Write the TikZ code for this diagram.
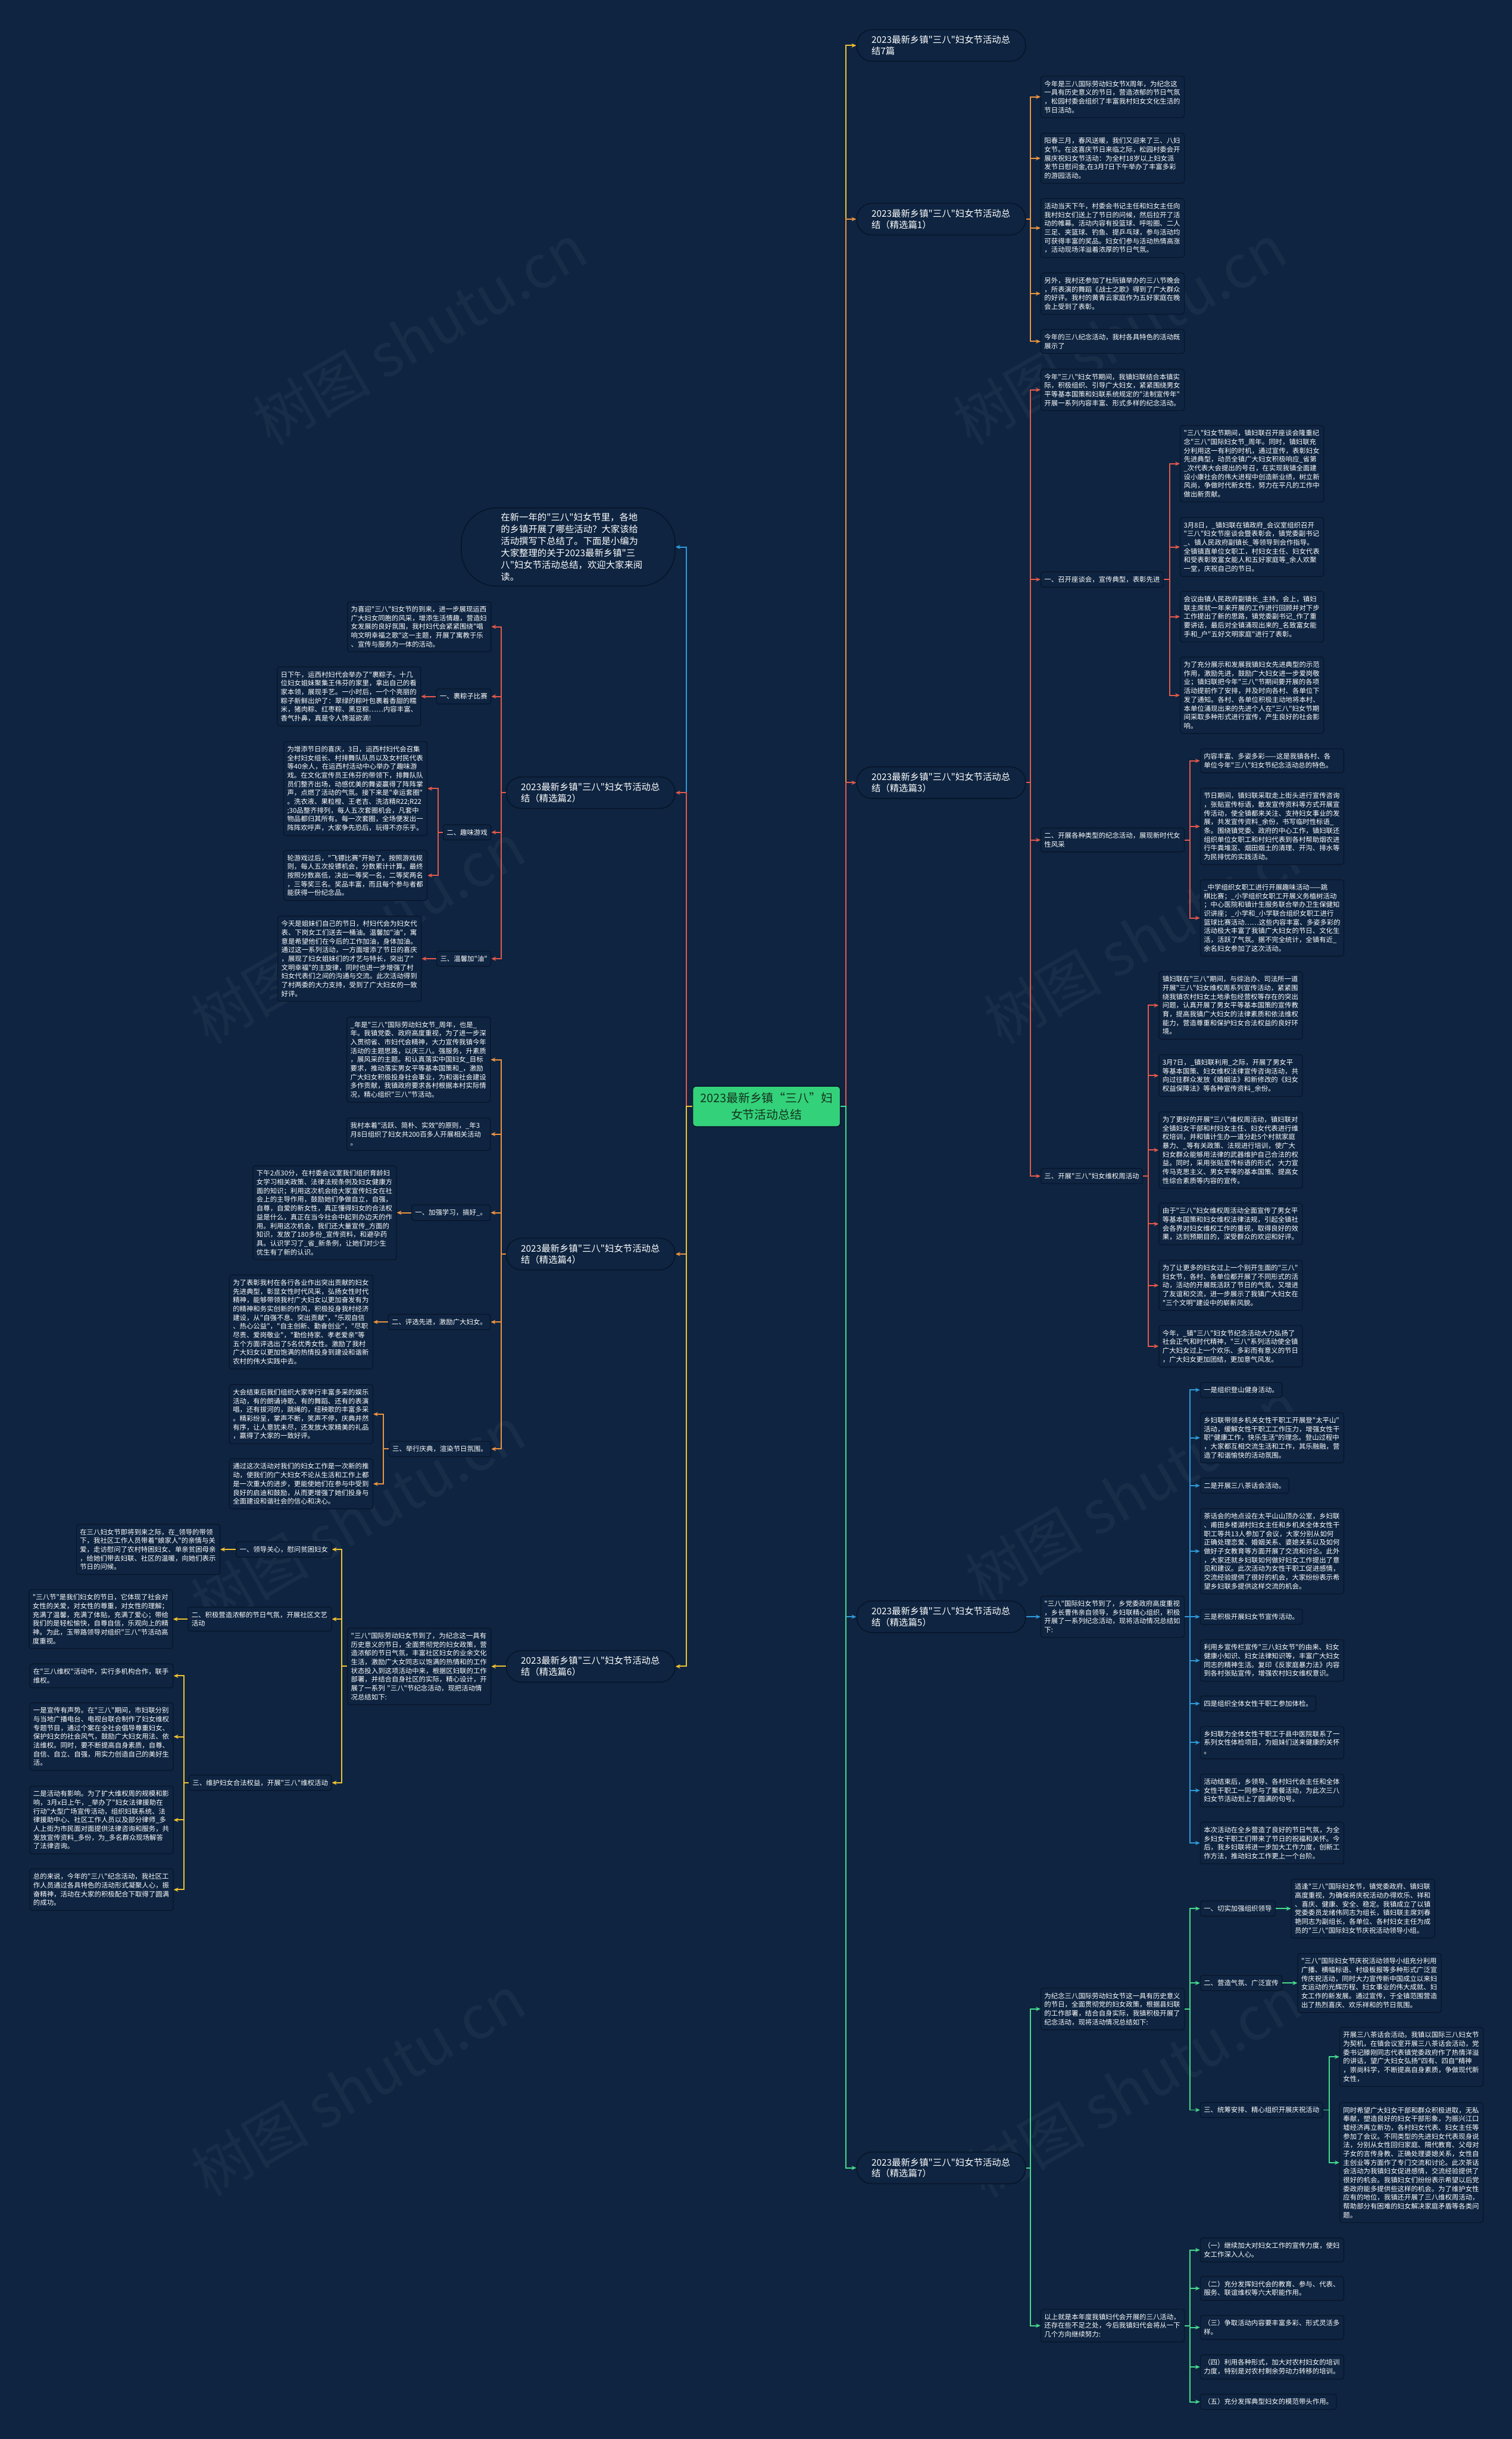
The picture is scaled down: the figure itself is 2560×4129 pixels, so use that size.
\documentclass[tikz,border=0pt]{standalone}
\usepackage{fontspec}
\newfontfamily\cjk{Noto Sans CJK SC}
\usetikzlibrary{arrows.meta}
\definecolor{bgc}{HTML}{0E2440}
\definecolor{nodeline}{HTML}{07152A}
\definecolor{cyel}{HTML}{F2C230}
\definecolor{corg}{HTML}{EC9340}
\definecolor{cred}{HTML}{E4584B}
\definecolor{cblu}{HTML}{2F9BDB}
\definecolor{cgrn}{HTML}{45DB8C}
\definecolor{rootg}{HTML}{33D17A}
\definecolor{roott}{HTML}{15331F}
\tikzset{
  leaf/.style={draw=nodeline, line width=1.2pt, fill=bgc, rounded corners=4pt, text=white,
    font=\cjk\fontsize{11.5}{14.8}\selectfont, align=left, inner xsep=6pt, inner ysep=7.5pt},
  wleaf/.style={leaf, text width=231pt},
  pill/.style={draw=nodeline, line width=1.6pt, fill=bgc, rounded corners=26pt, text=white,
    font=\cjk\fontsize{15.5}{19}\selectfont, align=left, text width=236pt, inner xsep=25pt, inner ysep=10pt},
  intro/.style={pill, rounded corners=60pt, text width=228pt, inner xsep=67pt, inner ysep=9pt,
    font=\cjk\fontsize{15.5}{20}\selectfont},
  conn/.style={line width=2pt, -{Stealth[length=8pt,width=7pt]}},
  wmark/.style={rotate=30, text=white, opacity=0.045, font=\cjk\fontsize{100}{100}\selectfont}
}
\begin{document}
\begin{tikzpicture}[x=1pt,y=-1pt]
\useasboundingbox (0,0) rectangle (2560,4129);
\fill[bgc] (0,0) rectangle (2560,4129);

% watermarks
\node[wmark] (wm1) at (711,566) {树图 shutu.cn};
\node[wmark] (wm2) at (1896,566) {树图 shutu.cn};
\node[wmark] (wm3) at (606,1580) {树图 shutu.cn};
\node[wmark] (wm4) at (1949,1580) {树图 shutu.cn};
\node[wmark] (wm5) at (606,2568) {树图 shutu.cn};
\node[wmark] (wm6) at (1917,2525) {树图 shutu.cn};
\node[wmark] (wm7) at (606,3530) {树图 shutu.cn};
\node[wmark] (wm8) at (1921,3532) {树图 shutu.cn};

% root
\node[draw=nodeline, line width=1.5pt, fill=rootg, text=roott, rounded corners=6pt,
  font=\cjk\fontsize{20}{28}\selectfont, align=center, text width=228pt, inner xsep=11pt, inner ysep=11pt]
  (root) at (1298,1873) {2023最新乡镇“三八”妇\\女节活动总结};

% ================= RIGHT SIDE =================
\node[pill,anchor=west] (t0) at (1450,77) {2023最新乡镇"三八"妇女节活动总\\结7篇};
\node[pill,anchor=west] (p1) at (1450,371) {2023最新乡镇"三八"妇女节活动总\\结（精选篇1）};
\node[pill,anchor=west] (p3) at (1450,1325) {2023最新乡镇"三八"妇女节活动总\\结（精选篇3）};
\node[pill,anchor=west] (p5) at (1450,2737) {2023最新乡镇"三八"妇女节活动总\\结（精选篇5）};
\node[pill,anchor=west] (p7) at (1450,3670) {2023最新乡镇"三八"妇女节活动总\\结（精选篇7）};

% --- 篇1
\node[wleaf,anchor=west] (a11) at (1762,164) {今年是三八国际劳动妇女节X周年，为纪念这\\一具有历史意义的节日，营造浓郁的节日气氛\\，松园村委会组织了丰富我村妇女文化生活的\\节日活动。};
\node[wleaf,anchor=west] (a12) at (1762,268) {阳春三月，春风送暖，我们又迎来了三、八妇\\女节。在这喜庆节日来临之际，松园村委会开\\展庆祝妇女节活动：为全村18岁以上妇女派\\发节日慰问金,在3月7日下午举办了丰富多彩\\的游园活动。};
\node[wleaf,anchor=west] (a13) at (1762,386) {活动当天下午，村委会书记主任和妇女主任向\\我村妇女们送上了节日的问候，然后拉开了活\\动的帷幕。活动内容有投篮球、呼啦圈、二人\\三足、夹篮球、钓鱼、提乒乓球，参与活动均\\可获得丰富的奖品。妇女们参与活动热情高涨\\，活动现场洋溢着浓厚的节日气氛。};
\node[wleaf,anchor=west] (a14) at (1762,497) {另外，我村还参加了杜阮镇举办的三八节晚会\\，所表演的舞蹈《战士之歌》得到了广大群众\\的好评。我村的黄青云家庭作为五好家庭在晚\\会上受到了表彰。};
\node[wleaf,anchor=west] (a15) at (1762,578) {今年的三八纪念活动，我村各具特色的活动既\\展示了};

% --- 篇3
\node[wleaf,anchor=west] (c30) at (1762,660) {今年"三八"妇女节期间，我镇妇联结合本镇实\\际，积极组织、引导广大妇女，紧紧围绕男女\\平等基本国策和妇联系统规定的"法制宣传年"\\开展一系列内容丰富、形式多样的纪念活动。};
\node[leaf,anchor=west] (c31) at (1762,981) {一、召开座谈会，宣传典型，表彰先进};
\node[wleaf,anchor=west] (c311) at (1998,785) {"三八"妇女节期间，镇妇联召开座谈会隆重纪\\念"三八"国际妇女节\_周年。同时，镇妇联充\\分利用这一有利的时机，通过宣传，表彰妇女\\先进典型，动员全镇广大妇女积极响应\_省第\\\_次代表大会提出的号召，在实现我镇全面建\\设小康社会的伟大进程中创造新业绩，树立新\\风尚，争做时代新女性，努力在平凡的工作中\\做出新贡献。};
\node[wleaf,anchor=west] (c312) at (1998,926) {3月8日，\_镇妇联在镇政府\_会议室组织召开\\"三八"妇女节座谈会暨表彰会，镇党委副书记\\\_、镇人民政府副镇长\_等领导到会作指导。\\全镇镇直单位女职工，村妇女主任、妇女代表\\和受表彰致富女能人和五好家庭等\_余人欢聚\\一堂，庆祝自己的节日。};
\node[wleaf,anchor=west] (c313) at (1998,1044) {会议由镇人民政府副镇长\_主持。会上，镇妇\\联主席就一年来开展的工作进行回顾并对下步\\工作提出了新的思路，镇党委副书记\_作了重\\要讲话，最后对全镇涌现出来的\_名致富女能\\手和\_户"五好文明家庭"进行了表彰。};
\node[wleaf,anchor=west] (c314) at (1998,1177) {为了充分展示和发展我镇妇女先进典型的示范\\作用，激励先进，鼓励广大妇女进一步爱岗敬\\业；镇妇联把今年"三八"节期间要开展的各项\\活动提前作了安排，并及时向各村、各单位下\\发了通知。各村、各单位积极主动地将本村、\\本单位涌现出来的先进个人在"三八"妇女节期\\间采取多种形式进行宣传，产生良好的社会影\\响。};
\node[wleaf,anchor=west] (c32) at (1762,1422) {二、开展各种类型的纪念活动，展现新时代女\\性风采};
\node[wleaf,anchor=west] (c321) at (2032,1288) {内容丰富、多姿多彩——这是我镇各村、各\\单位今年"三八"妇女节纪念活动总的特色。};
\node[wleaf,anchor=west] (c322) at (2032,1399) {节日期间，镇妇联采取走上街头进行宣传咨询\\，张贴宣传标语，散发宣传资料等方式开展宣\\传活动，使全镇都来关注、支持妇女事业的发\\展，共发宣传资料\_余份，书写临时性标语\_\\条。围绕镇党委、政府的中心工作，镇妇联还\\组织单位女职工和村妇代表到各村帮助烟农进\\行牛粪堆沤、烟田烟土的清理、开沟、排水等\\为民排忧的实践活动。};
\node[wleaf,anchor=west] (c323) at (2032,1554) {\_中学组织女职工进行开展趣味活动——跳\\棋比赛；\_小学组织女职工开展义务植树活动\\；中心医院和镇计生服务联合举办卫生保健知\\识讲座；\_小学和\_小学联合组织女职工进行\\篮球比赛活动……这些内容丰富、多姿多彩的\\活动极大丰富了我镇广大妇女的节日、文化生\\活，活跃了气氛。据不完全统计，全镇有近\_\\余名妇女参加了这次活动。};
\node[leaf,anchor=west] (c33) at (1762,1991) {三、开展"三八"妇女维权周活动};
\node[wleaf,anchor=west] (c331) at (1962,1702) {镇妇联在"三八"期间，与综治办、司法所一道\\开展"三八"妇女维权周系列宣传活动，紧紧围\\绕我镇农村妇女土地承包经营权等存在的突出\\问题，认真开展了男女平等基本国策的宣传教\\育，提高我镇广大妇女的法律素质和依法维权\\能力，营造尊重和保护妇女合法权益的良好环\\境。};
\node[wleaf,anchor=west] (c332) at (1962,1821) {3月7日，\_镇妇联利用\_之际，开展了男女平\\等基本国策、妇女维权法律宣传咨询活动，共\\向过往群众发放《婚姻法》和新修改的《妇女\\权益保障法》等各种宣传资料\_余份。};
\node[wleaf,anchor=west] (c333) at (1962,1947) {为了更好的开展"三八"维权周活动，镇妇联对\\全镇妇女干部和村妇女主任、妇女代表进行维\\权培训，并和镇计生办一道分赴5个村就家庭\\暴力、\_等有关政策、法规进行培训，使广大\\妇女群众能够用法律的武器维护自己合法的权\\益。同时，采用张贴宣传标语的形式，大力宣\\传马克思主义、男女平等的基本国策、提高女\\性综合素质等内容的宣传。};
\node[wleaf,anchor=west] (c334) at (1962,2072) {由于"三八"妇女维权周活动全面宣传了男女平\\等基本国策和妇女维权法律法规，引起全镇社\\会各界对妇女维权工作的重视，取得良好的效\\果，达到预期目的，深受群众的欢迎和好评。};
\node[wleaf,anchor=west] (c335) at (1962,2176) {为了让更多的妇女过上一个别开生面的"三八"\\妇女节，各村、各单位都开展了不同形式的活\\动，活动的开展既活跃了节日的气氛，又增进\\了友谊和交流，进一步展示了我镇广大妇女在\\"三个文明"建设中的崭新风貌。};
\node[wleaf,anchor=west] (c336) at (1962,2279) {今年，\_镇"三八"妇女节纪念活动大力弘扬了\\社会正气和时代精神，"三八"系列活动使全镇\\广大妇女过上一个欢乐、多彩而有意义的节日\\，广大妇女更加团结，更加意气风发。};

% --- 篇5
\node[wleaf,anchor=west] (c5) at (1762,2737) {"三八"国际妇女节到了，乡党委政府高度重视\\，乡长曹伟亲自领导，乡妇联精心组织，积极\\开展了一系列纪念活动，现将活动情况总结如\\下:};
\node[leaf,anchor=west] (c51) at (2032,2353) {一是组织登山健身活动。};
\node[wleaf,anchor=west] (c52) at (2032,2434) {乡妇联带领乡机关女性干职工开展登"太平山"\\活动，缓解女性干职工工作压力，增强女性干\\职"健康工作，快乐生活"的理念。登山过程中\\，大家都互相交流生活和工作，其乐融融，营\\造了和谐愉快的活动氛围。};
\node[leaf,anchor=west] (c53) at (2032,2515) {二是开展三八茶话会活动。};
\node[wleaf,anchor=west] (c54) at (2032,2626) {茶话会的地点设在太平山山顶办公室，乡妇联\\、甫田乡楼湖村妇女主任和乡机关全体女性干\\职工等共13人参加了会议，大家分别从如何\\正确处理恋爱、婚姻关系、婆媳关系以及如何\\做好子女教育等方面开展了交流和讨论。此外\\，大家还就乡妇联如何做好妇女工作提出了意\\见和建议。此次活动为女性干职工促进感情，\\交流经验提供了很好的机会，大家纷纷表示希\\望乡妇联多提供这样交流的机会。};
\node[leaf,anchor=west] (c55) at (2032,2737) {三是积极开展妇女节宣传活动。};
\node[wleaf,anchor=west] (c56) at (2032,2811) {利用乡宣传栏宣传"三八妇女节"的由来、妇女\\健康小知识、妇女法律知识等，丰富广大妇女\\同志的精神生活。复印《反家庭暴力法》内容\\到各村张贴宣传，增强农村妇女维权意识。};
\node[leaf,anchor=west] (c57) at (2032,2884) {四是组织全体女性干职工参加体检。};
\node[wleaf,anchor=west] (c58) at (2032,2950) {乡妇联为全体女性干职工于县中医院联系了一\\系列女性体检项目，为姐妹们送来健康的关怀\\。};
\node[wleaf,anchor=west] (c59) at (2032,3031) {活动结束后，乡领导、各村妇代会主任和全体\\女性干职工一同参与了聚餐活动，为此次三八\\妇女节活动划上了圆满的句号。};
\node[wleaf,anchor=west] (c510) at (2032,3120) {本次活动在全乡营造了良好的节日气氛，为全\\乡妇女干职工们带来了节日的祝福和关怀。今\\后，我乡妇联将进一步加大工作力度，创新工\\作方法，推动妇女工作更上一个台阶。};

% --- 篇7
\node[wleaf,anchor=west] (c71) at (1762,3401) {为纪念三八国际劳动妇女节这一具有历史意义\\的节日，全面贯彻党的妇女政策，根据县妇联\\的工作部署，结合自身实际，我镇积极开展了\\纪念活动，现将活动情况总结如下:};
\node[leaf,anchor=west] (c711) at (2032,3231) {一、切实加强组织领导};
\node[wleaf,anchor=west] (c7111) at (2186,3231) {适逢"三八"国际妇女节，镇党委政府、镇妇联\\高度重视，为确保将庆祝活动办得欢乐、祥和\\、喜庆、健康、安全、稳定。我镇成立了以镇\\党委委员龙绪伟同志为组长，镇妇联主席刘春\\艳同志为副组长，各单位、各村妇女主任为成\\员的"三八"国际妇女节庆祝活动领导小组。};
\node[leaf,anchor=west] (c712) at (2032,3357) {二、营造气氛、广泛宣传};
\node[wleaf,anchor=west] (c7121) at (2197,3357) {"三八"国际妇女节庆祝活动领导小组充分利用\\广播、横幅标语、村级板报等多种形式广泛宣\\传庆祝活动，同时大力宣传新中国成立以来妇\\女运动的光辉历程、妇女事业的伟大成就、妇\\女工作的新发展。通过宣传，于全镇范围营造\\出了热烈喜庆、欢乐祥和的节日氛围。};
\node[leaf,anchor=west] (c713) at (2032,3572) {三、统筹安排、精心组织开展庆祝活动};
\node[wleaf,anchor=west] (c7131) at (2268,3482) {开展三八茶话会活动。我镇以国际三八妇女节\\为契机，在镇会议室开展三八茶话会活动，党\\委书记滕刚同志代表镇党委政府作了热情洋溢\\的讲话，望广大妇女弘扬"四有、四自"精神\\，崇尚科学，不断提高自身素质，争做现代新\\女性，};
\node[wleaf,anchor=west] (c7132) at (2268,3661) {同时希望广大妇女干部和群众积极进取，无私\\奉献，塑造良好的妇女干部形象，为振兴江口\\墟经济再立新功，各村妇女代表、妇女主任等\\参加了会议。不同类型的先进妇女代表现身说\\法，分别从女性回归家庭、隔代教育、父母对\\子女的言传身教、正确处理婆媳关系，女性自\\主创业等方面作了专门交流和讨论。此次茶话\\会活动为我镇妇女促进感情，交流经验提供了\\很好的机会。我镇妇女们纷纷表示希望以后党\\委政府能多提供些这样的机会。为了维护女性\\应有的地位，我镇还开展了三八维权周活动，\\帮助部分有困难的妇女解决家庭矛盾等各类问\\题。};
\node[wleaf,anchor=west] (c72) at (1762,3937) {以上就是本年度我镇妇代会开展的三八活动，\\还存在些不足之处，今后我镇妇代会将从一下\\几个方向继续努力:};
\node[wleaf,anchor=west] (c721) at (2032,3809) {（一）继续加大对妇女工作的宣传力度，使妇\\女工作深入人心。};
\node[wleaf,anchor=west] (c722) at (2032,3874) {（二）充分发挥妇代会的教育、参与、代表、\\服务、联谊维权等六大职能作用。};
\node[wleaf,anchor=west] (c723) at (2032,3940) {（三）争取活动内容要丰富多彩、形式灵活多\\样。};
\node[wleaf,anchor=west] (c724) at (2032,4007) {（四）利用各种形式，加大对农村妇女的培训\\力度，特别是对农村剩余劳动力转移的培训。};
\node[leaf,anchor=west] (c725) at (2032,4066) {（五）充分发挥典型妇女的模范带头作用。};

% ================= LEFT SIDE =================
\node[intro,anchor=east] (pi) at (1144,926) {在新一年的"三八"妇女节里，各地\\的乡镇开展了哪些活动？大家该给\\活动撰写下总结了。下面是小编为\\大家整理的关于2023最新乡镇"三\\八"妇女节活动总结，欢迎大家来阅\\读。};
\node[pill,anchor=east] (p2) at (1144,1342) {2023最新乡镇"三八"妇女节活动总\\结（精选篇2）};
\node[pill,anchor=east] (p4) at (1144,2123) {2023最新乡镇"三八"妇女节活动总\\结（精选篇4）};
\node[pill,anchor=east] (p6) at (1144,2821) {2023最新乡镇"三八"妇女节活动总\\结（精选篇6）};

% --- 篇2
\node[wleaf,anchor=east] (b21) at (832,1061) {为喜迎"三八"妇女节的到来，进一步展现运西\\广大妇女同胞的风采，增添生活情趣，营造妇\\女发展的良好氛围，我村妇代会紧紧围绕"唱\\响文明幸福之歌"这一主题，开展了寓教于乐\\、宣传与服务为一体的活动。};
\node[leaf,anchor=east] (b22) at (832,1179) {一、裹粽子比赛};
\node[wleaf,anchor=east] (b221) at (713,1179) {日下午，运西村妇代会举办了"裹粽子。十几\\位妇女姐妹聚集王伟芬的家里，拿出自己的看\\家本领，展现手艺。一小时后，一个个亮丽的\\粽子新鲜出炉了：翠绿的粽叶包裹着香甜的糯\\米，猪肉粽、红枣粽、黑豆粽……内容丰富、\\香气扑鼻，真是令人馋涎欲滴!};
\node[leaf,anchor=east] (b23) at (832,1409) {二、趣味游戏};
\node[wleaf,anchor=east] (b231) at (724,1335) {为增添节日的喜庆，3日，运西村妇代会召集\\全村妇女组长、村排舞队队员以及女村民代表\\等40余人，在运西村活动中心举办了趣味游\\戏。在文化宣传员王伟芬的带领下，排舞队队\\员们整齐出场，动感优美的舞姿赢得了阵阵掌\\声，点燃了活动的气氛。接下来是"幸运套圈"\\。洗衣液、果粒橙、王老吉、洗洁精R22;R22\\;30品整齐排列，每人五次套圈机会，凡套中\\物品都归其所有。每一次套圈，全场便发出一\\阵阵欢呼声，大家争先恐后，玩得不亦乐乎。};
\node[wleaf,anchor=east] (b232) at (724,1482) {轮游戏过后，"飞镖比赛"开始了。按照游戏规\\则，每人五次投镖机会，分数累计计算。最终\\按照分数高低，决出一等奖一名，二等奖两名\\，三等奖三名。奖品丰富，而且每个参与者都\\能获得一份纪念品。};
\node[leaf,anchor=east] (b24) at (832,1623) {三、温馨加"油"};
\node[wleaf,anchor=east] (b241) at (714,1623) {今天是姐妹们自己的节日，村妇代会为妇女代\\表、下岗女工们送去一桶油。温馨加"油"，寓\\意是希望他们在今后的工作加油，身体加油。\\通过这一系列活动，一方面增添了节日的喜庆\\，展现了妇女姐妹们的才艺与特长，突出了"\\文明幸福"的主旋律，同时也进一步增强了村\\妇女代表们之间的沟通与交流。此次活动得到\\了村两委的大力支持，受到了广大妇女的一致\\好评。};

% --- 篇4
\node[wleaf,anchor=east] (b41) at (831,1794) {\_年是"三八"国际劳动妇女节\_周年，也是\_\\年。我镇党委、政府高度重视，为了进一步深\\入贯彻省、市妇代会精神，大力宣传我镇今年\\活动的主题思路，以庆三八。强服务，升素质\\，展风采的主题。和认真落实中国妇女\_目标\\要求，推动落实男女平等基本国策和\_，激励\\广大妇女积极投身社会事业，为和谐社会建设\\多作贡献，我镇政府要求各村根据本村实际情\\况，精心组织"三八"节活动。};
\node[wleaf,anchor=east] (b42) at (831,1920) {我村本着"活跃、简朴、实效"的原则，\_年3\\月8日组织了妇女共200百多人开展相关活动\\。};
\node[leaf,anchor=east] (b43) at (831,2053) {一、加强学习，搞好\_。};
\node[wleaf,anchor=east] (b431) at (672,2053) {下午2点30分，在村委会议室我们组织育龄妇\\女学习相关政策、法律法规条例及妇女健康方\\面的知识；利用这次机会给大家宣传妇女在社\\会上的主导作用，鼓励她们争做自立，自强，\\自尊，自爱的新女性，真正懂得妇女的合法权\\益是什么，真正在当今社会中起到办边天的作\\用。利用这次机会，我们还大量宣传\_方面的\\知识，发放了180多份\_宣传资料，和避孕药\\具。认识学习了\_省\_新条例，让她们对少生\\优生有了新的认识。};
\node[leaf,anchor=east] (b44) at (831,2238) {二、评选先进，激励广大妇女。};
\node[wleaf,anchor=east] (b441) at (632,2238) {为了表彰我村在各行各业作出突出贡献的妇女\\先进典型，彰显女性时代风采，弘扬女性时代\\精神，能够带领我村广大妇女以更加奋发有为\\的精神和务实创新的作风，积极投身我村经济\\建设，从"自强不息、突出贡献"，"乐观自信\\、热心公益"，"自主创新、勤奋创业"，"尽职\\尽责、爱岗敬业"，"勤俭持家、孝老爱亲"等\\五个方面评选出了5名优秀女性。激励了我村\\广大妇女以更加饱满的热情投身到建设和谐新\\农村的伟大实践中去。};
\node[leaf,anchor=east] (b45) at (832,2453) {三、举行庆典，渲染节日氛围。};
\node[wleaf,anchor=east] (b451) at (632,2394) {大会结束后我们组织大家举行丰富多采的娱乐\\活动，有的朗诵诗歌、有的舞蹈、还有的表演\\唱，还有拔河的，跳绳的，纽秧歌的丰富多采\\。精彩纷呈，掌声不断，笑声不停，庆典井然\\有序，让人意犹未尽，还发放大家精美的礼品\\，赢得了大家的一致好评。};
\node[wleaf,anchor=east] (b452) at (632,2512) {通过这次活动对我们的妇女工作是一次新的推\\动，使我们的广大妇女不论从生活和工作上都\\是一次重大的进步，更能使她们在参与中受到\\良好的启迪和鼓励，从而更增强了她们投身与\\全面建设和谐社会的信心和决心。};

% --- 篇6
\node[wleaf,anchor=east] (b6) at (832,2821) {"三八"国际劳动妇女节到了，为纪念这一具有\\历史意义的节日，全面贯彻党的妇女政策，营\\造浓郁的节日气氛，丰富社区妇女的业余文化\\生活，激励广大女同志以饱满的热情和的工作\\状态投入到这项活动中来，根据区妇联的工作\\部署，并结合自身社区的实际，精心设计，开\\展了一系列 "三八"节纪念活动，现把活动情\\况总结如下:};
\node[leaf,anchor=east] (b61) at (562,2623) {一、领导关心，慰问贫困妇女};
\node[wleaf,anchor=east] (b611) at (373,2623) {在三八妇女节即将到来之际，在\_领导的带领\\下，我社区工作人员带着"娘家人"的亲情与关\\爱，走访慰问了农村特困妇女、单亲贫困母亲\\，给她们带去妇联、社区的温暖，向她们表示\\节日的问候。};
\node[wleaf,anchor=east] (b62) at (562,2741) {二、积极营造浓郁的节日气氛，开展社区文艺\\活动};
\node[wleaf,anchor=east] (b621) at (293,2741) {"三八节"是我们妇女的节日，它体现了社会对\\女性的关爱，对女性的尊重，对女性的理解；\\充满了温馨，充满了体贴，充满了爱心；带给\\我们的是轻松愉快，自尊自信，乐观向上的精\\神。为此，玉带路领导对组织"三八"节活动高\\度重视。};
\node[leaf,anchor=east] (b63) at (562,3018) {三、维护妇女合法权益，开展"三八"维权活动};
\node[wleaf,anchor=east] (b631) at (294,2837) {在"三八维权"活动中，实行多机构合作，联手\\维权。};
\node[wleaf,anchor=east] (b632) at (294,2940) {一是宣传有声势。在"三八"期间，市妇联分别\\与当地广播电台、电视台联合制作了妇女维权\\专题节目，通过个案在全社会倡导尊重妇女、\\保护妇女的社会风气，鼓励广大妇女用法、依\\法维权。同时，要不断提高自身素质，自尊、\\自信、自立、自强，用实力创造自己的美好生\\活。};
\node[wleaf,anchor=east] (b633) at (294,3081) {二是活动有影响。为了扩大维权周的规模和影\\响，3月x日上午，\_举办了"妇女法律援助在\\行动"大型广场宣传活动，组织妇联系统、法\\律援助中心、社区工作人员以及部分律师\_多\\人上街为市民面对面提供法律咨询和服务，共\\发放宣传资料\_多份，为\_多名群众现场解答\\了法律咨询。};
\node[wleaf,anchor=east] (b634) at (294,3199) {总的来说，今年的"三八"纪念活动，我社区工\\作人员通过各具特色的活动形式凝聚人心，振\\奋精神，活动在大家的积极配合下取得了圆满\\的成功。};

% ================= vertical lines =================
\coordinate (vR) at (1432,0);
\coordinate (vL) at (1162,0);
\coordinate (v1) at (1745,0);
\coordinate (v3) at (1745,0);
\coordinate (v31) at (1981,0);
\coordinate (v32) at (2015,0);
\coordinate (v33) at (1945,0);
\coordinate (v5) at (2015,0);
\coordinate (v7) at (1745,0);
\coordinate (v71) at (2015,0);
\coordinate (v713) at (2251,0);
\coordinate (v72) at (2015,0);
\coordinate (v2) at (849,0);
\coordinate (v23) at (742,0);
\coordinate (v4) at (849,0);
\coordinate (v45) at (649,0);
\coordinate (v6) at (579,0);
\coordinate (v63) at (311,0);

% ================= connectors =================
% root right
\draw[conn,cyel] (root.east) -- (root.east -| vR) |- (t0.west);
\draw[conn,corg] (root.east) -- (root.east -| vR) |- (p1.west);
\draw[conn,cred] (root.east) -- (root.east -| vR) |- (p3.west);
\draw[conn,cblu] (root.east) -- (root.east -| vR) |- (p5.west);
\draw[conn,cgrn] (root.east) -- (root.east -| vR) |- (p7.west);
% root left
\draw[conn,cblu] (root.west) -- (root.west -| vL) |- (pi.east);
\draw[conn,cred] (root.west) -- (root.west -| vL) |- (p2.east);
\draw[conn,corg] (root.west) -- (root.west -| vL) |- (p4.east);
\draw[conn,cyel] (root.west) -- (root.west -| vL) |- (p6.east);

% 篇1
\foreach \n in {a11,a12,a13,a14,a15}
  \draw[conn,corg] (p1.east) -- (p1.east -| v1) |- (\n.west);
% 篇3
\foreach \n in {c30,c31,c32,c33}
  \draw[conn,cred] (p3.east) -- (p3.east -| v3) |- (\n.west);
\foreach \n in {c311,c312,c313,c314}
  \draw[conn,cred] (c31.east) -- (c31.east -| v31) |- (\n.west);
\foreach \n in {c321,c322,c323}
  \draw[conn,cred] (c32.east) -- (c32.east -| v32) |- (\n.west);
\foreach \n in {c331,c332,c333,c334,c335,c336}
  \draw[conn,cred] (c33.east) -- (c33.east -| v33) |- (\n.west);
% 篇5
\draw[conn,cblu] (p5.east) -- (c5.west);
\foreach \n in {c51,c52,c53,c54,c55,c56,c57,c58,c59,c510}
  \draw[conn,cblu] (c5.east) -- (c5.east -| v5) |- (\n.west);
% 篇7
\foreach \n in {c71,c72}
  \draw[conn,cgrn] (p7.east) -- (p7.east -| v7) |- (\n.west);
\foreach \n in {c711,c712,c713}
  \draw[conn,cgrn] (c71.east) -- (c71.east -| v71) |- (\n.west);
\draw[conn,cgrn] (c711.east) -- (c7111.west);
\draw[conn,cgrn] (c712.east) -- (c7121.west);
\foreach \n in {c7131,c7132}
  \draw[conn,cgrn] (c713.east) -- (c713.east -| v713) |- (\n.west);
\foreach \n in {c721,c722,c723,c724,c725}
  \draw[conn,cgrn] (c72.east) -- (c72.east -| v72) |- (\n.west);

% 篇2
\foreach \n in {b21,b22,b23,b24}
  \draw[conn,cred] (p2.west) -- (p2.west -| v2) |- (\n.east);
\draw[conn,cred] (b22.west) -- (b221.east);
\foreach \n in {b231,b232}
  \draw[conn,cred] (b23.west) -- (b23.west -| v23) |- (\n.east);
\draw[conn,cred] (b24.west) -- (b241.east);
% 篇4
\foreach \n in {b41,b42,b43,b44,b45}
  \draw[conn,corg] (p4.west) -- (p4.west -| v4) |- (\n.east);
\draw[conn,corg] (b43.west) -- (b431.east);
\draw[conn,corg] (b44.west) -- (b441.east);
\foreach \n in {b451,b452}
  \draw[conn,corg] (b45.west) -- (b45.west -| v45) |- (\n.east);
% 篇6
\draw[conn,cyel] (p6.west) -- (b6.east);
\foreach \n in {b61,b62,b63}
  \draw[conn,cyel] (b6.west) -- (b6.west -| v6) |- (\n.east);
\draw[conn,cyel] (b61.west) -- (b611.east);
\draw[conn,cyel] (b62.west) -- (b621.east);
\foreach \n in {b631,b632,b633,b634}
  \draw[conn,cyel] (b63.west) -- (b63.west -| v63) |- (\n.east);
\end{tikzpicture}
\end{document}
